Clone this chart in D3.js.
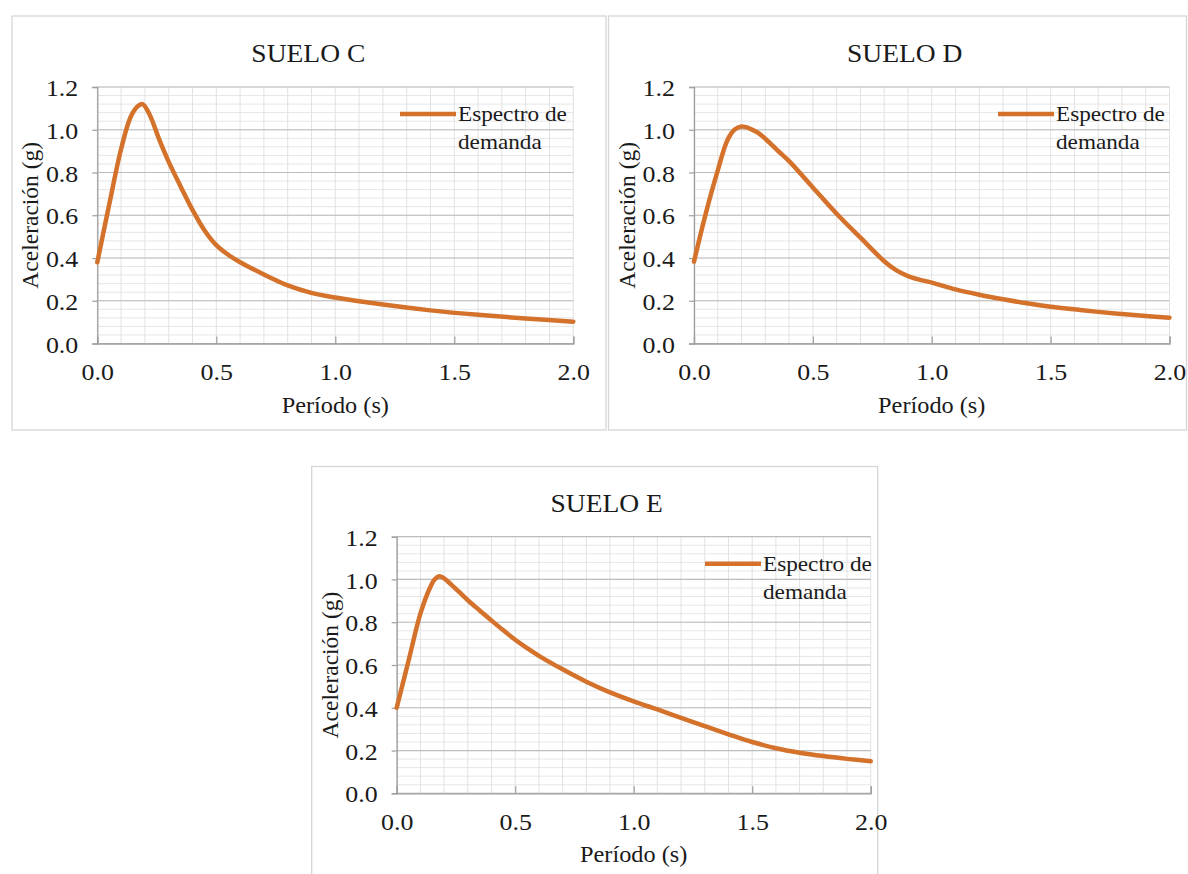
<!DOCTYPE html>
<html>
<head>
<meta charset="utf-8">
<script src="https://cdn.jsdelivr.net/npm/d3@7"></script>
<style>
  html, body { margin: 0; padding: 0; background: #ffffff; }
  svg { display: block; }
</style>
</head>
<body>
<svg id="chart" width="1188" height="874"></svg>
<script>
// ---------------- data ----------------
const titles = ["SUELO C", "SUELO D", "SUELO E"];
const seriesName = ["Espectro de", "demanda"];
const xLabel = "Período (s)";
const yLabel = "Aceleración (g)";
const xTicks = [0.0, 0.5, 1.0, 1.5, 2.0];
const yTicks = [0.0, 0.2, 0.4, 0.6, 0.8, 1.0, 1.2];

const periodC = [0, 0.05, 0.10, 0.14, 0.17, 0.19, 0.22, 0.26, 0.30, 0.35, 0.40, 0.45, 0.50, 0.55, 0.60, 0.70, 0.80, 0.90, 1.00, 1.20, 1.40, 1.60, 1.80, 2.00];
const accelC  = [0.38, 0.65, 0.91, 1.06, 1.11, 1.12, 1.07, 0.955, 0.85, 0.735, 0.625, 0.53, 0.46, 0.415, 0.38, 0.323, 0.272, 0.237, 0.215, 0.182, 0.155, 0.134, 0.117, 0.102];

const periodD = [0, 0.05, 0.10, 0.14, 0.17, 0.20, 0.23, 0.27, 0.30, 0.35, 0.40, 0.50, 0.60, 0.70, 0.80, 0.85, 0.90, 0.95, 1.00, 1.10, 1.20, 1.30, 1.40, 1.50, 1.60, 1.70, 1.80, 1.90, 2.00];
const accelD  = [0.383, 0.61, 0.81, 0.95, 1.0, 1.015, 1.008, 0.985, 0.958, 0.905, 0.853, 0.73, 0.607, 0.495, 0.385, 0.343, 0.315, 0.298, 0.285, 0.253, 0.228, 0.207, 0.188, 0.172, 0.16, 0.148, 0.138, 0.129, 0.121];

const periodE = [0, 0.05, 0.10, 0.14, 0.16, 0.18, 0.20, 0.23, 0.26, 0.30, 0.35, 0.40, 0.45, 0.50, 0.55, 0.60, 0.70, 0.80, 0.90, 1.00, 1.10, 1.20, 1.30, 1.40, 1.50, 1.60, 1.70, 1.80, 1.90, 2.00];
const accelE  = [0.40, 0.62, 0.84, 0.96, 1.0, 1.015, 1.005, 0.976, 0.945, 0.903, 0.855, 0.808, 0.762, 0.718, 0.679, 0.643, 0.58, 0.522, 0.472, 0.43, 0.392, 0.353, 0.314, 0.276, 0.24, 0.211, 0.19, 0.174, 0.161, 0.15];

// ---------------- layout ----------------
const panels = [
  { title: titles[0], T: periodC, A: accelC, box: [12, 16, 594, 414], x0: 97.3, x1: 573.3, yT: 87, yB: 343.5, legX: 400 },
  { title: titles[1], T: periodD, A: accelD, box: [608.5, 16, 578, 414], x0: 694, x1: 1169.5, yT: 87, yB: 343.5, legX: 998 },
  { title: titles[2], T: periodE, A: accelE, box: [311.7, 466.5, 566, 420], x0: 396.7, x1: 870.7, yT: 536.7, yB: 793.3, legX: 705 }
];

const LINE = "#d4712a";
const FONT = '"Liberation Serif"';
const INK = "#1a1a1a";
const SX = 1.08; // horizontal text stretch

const svg = d3.select("#chart");

function stretchedText(g, x, y, str, size, anchor) {
  return g.append("text")
    .attr("transform", `translate(${x},${y}) scale(${SX},1)`)
    .attr("text-anchor", anchor)
    .style("font-family", FONT)
    .style("font-size", size + "px")
    .style("fill", INK)
    .text(str);
}

panels.forEach(p => {
  const g = svg.append("g");
  g.append("rect")
    .attr("x", p.box[0]).attr("y", p.box[1])
    .attr("width", p.box[2]).attr("height", p.box[3])
    .attr("fill", "#fff").attr("stroke", "#d6d6d6").attr("stroke-width", 1.3);

  const x = d3.scaleLinear().domain([0, 2]).range([p.x0, p.x1]);
  const y = d3.scaleLinear().domain([0, 1.2]).range([p.yB, p.yT]);

  const minorY = d3.range(0, 31).map(i => i * 0.04);
  const minorX = d3.range(0, 21).map(i => i * 0.1);
  g.append("g").selectAll("line").data(minorY).join("line")
    .attr("x1", p.x0).attr("x2", p.x1)
    .attr("y1", d => y(d)).attr("y2", d => y(d))
    .attr("stroke", "#e6e6e6").attr("stroke-width", 1);
  g.append("g").selectAll("line").data(minorX).join("line")
    .attr("x1", d => x(d)).attr("x2", d => x(d))
    .attr("y1", p.yT).attr("y2", p.yB)
    .attr("stroke", "#e2e2e2").attr("stroke-width", 1);
  g.append("g").selectAll("line").data(yTicks).join("line")
    .attr("x1", p.x0).attr("x2", p.x1)
    .attr("y1", d => y(d)).attr("y2", d => y(d))
    .attr("stroke", "#bdbdbd").attr("stroke-width", 1.2);

  const ax = g.append("g").attr("transform", `translate(0,${p.yB})`)
    .call(d3.axisBottom(x).tickValues(xTicks).tickSize(-7).tickFormat(d3.format(".1f")));
  ax.select(".domain").attr("stroke", "#9e9e9e").attr("stroke-width", 1.3);
  ax.selectAll(".tick line").attr("stroke", "#9e9e9e").attr("stroke-width", 1.2);
  ax.selectAll(".tick text")
    .attr("y", 37).attr("dy", 0)
    .attr("transform", `scale(${SX},1)`)
    .style("font-family", FONT)
    .style("font-size", "24px").style("fill", INK);

  const ay = g.append("g").attr("transform", `translate(${p.x0},0)`)
    .call(d3.axisLeft(y).tickValues(yTicks).tickSize(5).tickFormat(d3.format(".1f")));
  ay.select(".domain").attr("stroke", "#9e9e9e").attr("stroke-width", 1.3);
  ay.selectAll(".tick line").attr("stroke", "#9e9e9e").attr("stroke-width", 1.2);
  ay.selectAll(".tick text")
    .attr("x", -19 / SX).attr("dy", "0.36em")
    .attr("transform", `scale(${SX},1)`)
    .style("font-family", FONT)
    .style("font-size", "24px").style("fill", INK);

  const cx = (p.x0 + p.x1) / 2;
  stretchedText(g, cx - 27, p.yT - 25, p.title, 25.5, "middle");
  stretchedText(g, cx, p.yB + 69, xLabel, 22.5, "middle");
  g.append("text")
    .attr("transform", `translate(${p.x0 - 59},${(p.yT + p.yB) / 2}) rotate(-90)`)
    .attr("text-anchor", "middle")
    .style("font-family", FONT)
    .style("font-size", "23.5px")
    .style("fill", INK)
    .text(yLabel);

  const pts = p.T.map((t, i) => [t, p.A[i]]);
  const line = d3.line().x(d => x(d[0])).y(d => y(d[1])).curve(d3.curveCatmullRom.alpha(0.5));
  g.append("path").datum(pts)
    .attr("d", line)
    .attr("fill", "none").attr("stroke", LINE).attr("stroke-width", 4.5)
    .attr("stroke-linejoin", "round").attr("stroke-linecap", "round");

  g.append("line")
    .attr("x1", p.legX).attr("x2", p.legX + 56)
    .attr("y1", p.yT + 27).attr("y2", p.yT + 27)
    .attr("stroke", LINE).attr("stroke-width", 4.5);
  stretchedText(g, p.legX + 58, p.yT + 34, seriesName[0], 21.5, "start");
  stretchedText(g, p.legX + 58, p.yT + 62, seriesName[1], 21.5, "start");
});
</script>
</body>
</html>
